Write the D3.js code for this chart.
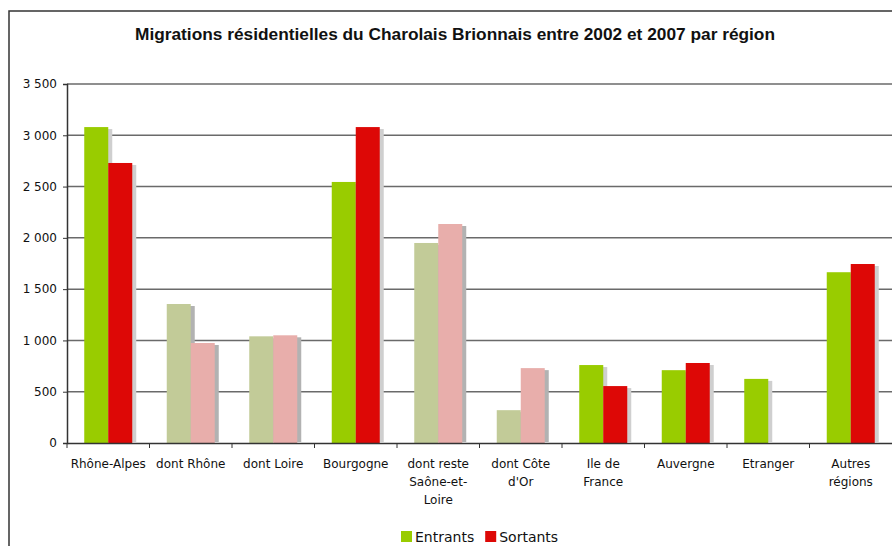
<!DOCTYPE html>
<html>
<head>
<meta charset="utf-8">
<script src="https://cdn.jsdelivr.net/npm/d3@7"></script>
<style>
  html, body { margin: 0; padding: 0; background: #fff; overflow: hidden; }
  svg { display: block; }
  text { font-family: "DejaVu Sans", Verdana, sans-serif; fill: #111; }
</style>
</head>
<body>
<div id="chart"></div>
<script>
// Données
var categories = ["Rhône-Alpes", "dont Rhône", "dont Loire", "Bourgogne", "dont reste Saône-et-Loire",
                  "dont Côte d'Or", "Ile de France", "Auvergne", "Etranger", "Autres régions"];
var entrants = [3080, 1355, 1040, 2545, 1950, 320, 760, 710, 625, 1665];
var sortants = [2730, 975, 1050, 3080, 2135, 730, 555, 780, null, 1745];
var seriesNames = ["Entrants", "Sortants"];
var yTicks = [0, 500, 1000, 1500, 2000, 2500, 3000, 3500];

// libellés découpés comme dans l'original
var labelLines = {
  "dont reste Saône-et-Loire": ["dont reste", "Saône-et-", "Loire"],
  "dont Côte d'Or": ["dont Côte", "d'Or"],
  "Ile de France": ["Ile de", "France"],
  "Autres régions": ["Autres", "régions"]
};

var W = 892, H = 546;
var margin = {top: 84, right: 0, bottom: 103, left: 67};
var width = W - margin.left - margin.right,
    height = H - margin.top - margin.bottom;

var colors = {Entrants: "#99cc00", Sortants: "#dd0806"};
var pale = {Entrants: "#c2cb98", Sortants: "#e8aeab"};

var svg = d3.select("#chart").append("svg")
    .attr("width", W)
    .attr("height", H);

// cadre
svg.append("rect")
    .attr("x", 9).attr("y", 11)
    .attr("width", W + 20).attr("height", H + 20)
    .attr("fill", "none")
    .attr("stroke", "#333")
    .attr("stroke-width", 1.5);

// titre
svg.append("text")
    .attr("x", 455).attr("y", 40)
    .attr("text-anchor", "middle")
    .attr("textLength", 640)
    .attr("lengthAdjust", "spacingAndGlyphs")
    .style("font-family", "'Liberation Sans', Arial, sans-serif")
    .style("font-weight", "bold")
    .style("font-size", "16.5px")
    .text("Migrations résidentielles du Charolais Brionnais entre 2002 et 2007 par région");

var g = svg.append("g")
    .attr("transform", "translate(" + margin.left + "," + margin.top + ")");

var x0 = d3.scaleBand().domain(categories).range([0, width]).paddingInner(0).paddingOuter(0);
var x1 = d3.scaleBand().domain(seriesNames).range([0, 48])
    .paddingInner(0).paddingOuter(0);
var offset = (x0.bandwidth() - 48) / 2;
var y = d3.scaleLinear().domain([0, 3500]).range([height, 0]);

// grille
g.selectAll(".grid")
  .data(yTicks.slice(1))
  .enter()
  .append("line")
  .attr("x1", 0).attr("x2", width)
  .attr("y1", d => y(d)).attr("y2", d => y(d))
  .attr("stroke", "#6a6a6a")
  .attr("stroke-width", 1.5);

// barres
var rows = categories.map((c, i) => ({cat: c, values: [
  {key: "Entrants", value: entrants[i]},
  {key: "Sortants", value: sortants[i]}
]}));

var groups = g.selectAll(".cat")
  .data(rows)
  .enter()
  .append("g")
  .attr("transform", d => "translate(" + (x0(d.cat) + offset) + ",0)");

groups.each(function(row) {
  var isPale = row.cat.indexOf("dont") === 0;
  var sel = d3.select(this);
  row.values.forEach(function(v) {
    if (v.value == null) return;
    // ombre
    sel.append("rect")
      .attr("x", x1(v.key) + 4)
      .attr("y", y(v.value) + 2)
      .attr("width", x1.bandwidth())
      .attr("height", height - y(v.value) - 3)
      .attr("fill", isPale ? "#b2b2b2" : "#cfcfcf");
    sel.append("rect")
      .attr("x", x1(v.key))
      .attr("y", y(v.value))
      .attr("width", x1.bandwidth())
      .attr("height", height - y(v.value))
      .attr("fill", isPale ? pale[v.key] : colors[v.key]);
  });
});

// axe Y
var yAxis = g.append("g")
  .call(d3.axisLeft(y).tickValues(yTicks).tickSize(4).tickPadding(6)
        .tickFormat(d => d3.format(",")(d).replace(",", " ")));
yAxis.select(".domain").attr("stroke", "#333").attr("stroke-width", 1.5);
yAxis.selectAll(".tick line").attr("stroke", "#333");
yAxis.selectAll("text").style("font-size", "12px").attr("fill", "#111");

// axe X
var xAxis = g.append("g")
  .attr("transform", "translate(0," + height + ")")
  .call(d3.axisBottom(x0).tickSize(0).tickFormat(""));
xAxis.select(".domain").attr("stroke", "#333").attr("stroke-width", 1.5);
xAxis.selectAll(".tick").remove();

xAxis.selectAll(".sep")
  .data(categories)
  .enter()
  .append("line")
  .attr("x1", d => x0(d)).attr("x2", d => x0(d))
  .attr("y1", 0).attr("y2", 5)
  .attr("stroke", "#333");

var labels = xAxis.selectAll(".lab")
  .data(categories)
  .enter()
  .append("text")
  .attr("text-anchor", "middle")
  .attr("x", d => x0(d) + x0.bandwidth() / 2)
  .attr("y", 25)
  .style("font-size", "12px");
labels.each(function(d) {
  var lines = labelLines[d] || [d];
  var t = d3.select(this);
  lines.forEach(function(l, i) {
    t.append("tspan")
      .attr("x", x0(d) + x0.bandwidth() / 2)
      .attr("dy", i === 0 ? 0 : 18)
      .text(l);
  });
});

// légende
var legend = svg.append("g").attr("transform", "translate(401,531)");
var lx = 0;
seriesNames.forEach(function(s) {
  legend.append("rect")
    .attr("x", lx).attr("y", 0)
    .attr("width", 11).attr("height", 11)
    .attr("fill", colors[s]);
  var t = legend.append("text")
    .attr("x", lx + 14).attr("y", 11)
    .style("font-size", "14px")
    .text(s);
  lx += 14 + t.node().getComputedTextLength() + 11;
});
</script>
</body>
</html>
